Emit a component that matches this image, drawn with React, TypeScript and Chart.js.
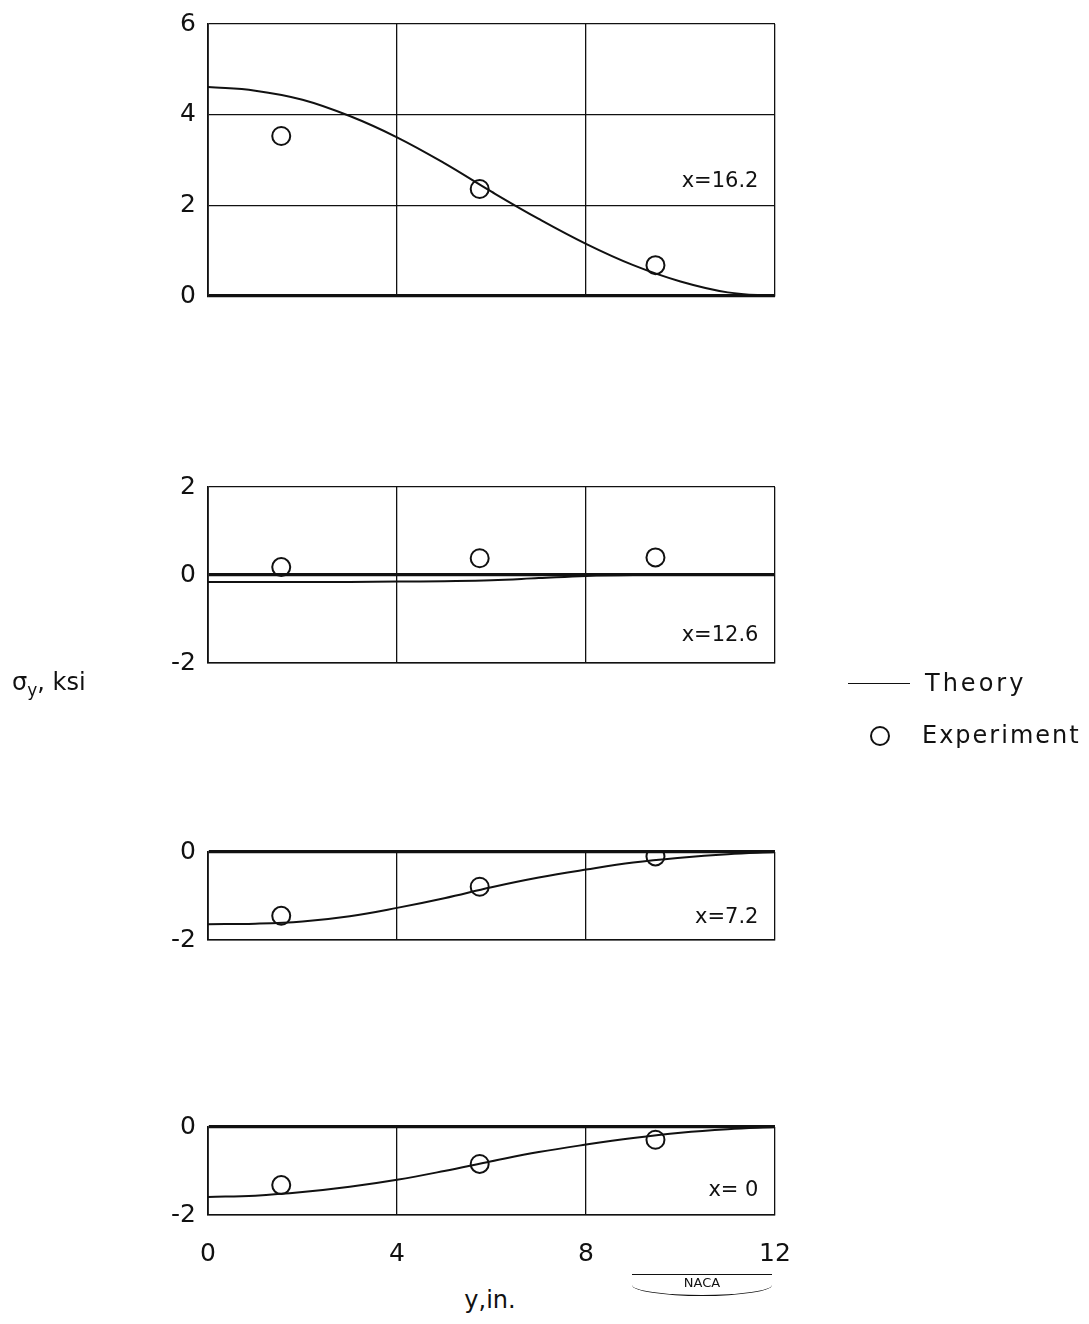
import React, { useEffect, useRef } from "react";
import { Chart, registerables } from "chart.js";

Chart.register(...registerables);

// ---- data ----
const theoryY: number[] = [0, 1, 2, 3, 4, 5, 6, 7, 8, 9, 10, 11, 12];

const theory162: number[] = [4.61, 4.53, 4.33, 3.97, 3.5, 2.93, 2.3, 1.7, 1.15, 0.68, 0.32, 0.08, 0.0];
const theory126: number[] = [-0.16, -0.16, -0.16, -0.16, -0.15, -0.14, -0.12, -0.07, -0.02, 0.0, 0.0, 0.0, 0.0];
const theory72: number[] = [-1.64, -1.63, -1.58, -1.46, -1.27, -1.05, -0.8, -0.58, -0.4, -0.24, -0.13, -0.05, 0.0];
const theory0: number[] = [-1.59, -1.56, -1.48, -1.36, -1.2, -1.0, -0.78, -0.57, -0.4, -0.25, -0.13, -0.05, 0.0];

const expY: number[] = [1.55, 5.75, 9.47];
const exp162: number[] = [3.53, 2.36, 0.68];
const exp126: number[] = [0.18, 0.38, 0.4];
const exp72: number[] = [-1.45, -0.79, -0.1];
const exp0: number[] = [-1.32, -0.84, -0.29];

const xTickLabels: number[] = [0, 4, 8, 12];
const panelTitles: string[] = ["x=16.2", "x=12.6", "x=7.2", "x= 0"];
const titlePos: number[][] = [
  [11.65, 2.52],
  [11.65, -1.38],
  [11.65, -1.48],
  [11.65, -1.44],
];

const FONT = "'DejaVu Sans', sans-serif";

type Panel = {
  top: number;
  bottom: number;
  min: number;
  max: number;
  theory: number[];
  exp: number[];
  showX: boolean;
  idx: number;
};

const panels: Panel[] = [
  { top: 22, bottom: 298, min: 0, max: 6, theory: theory162, exp: exp162, showX: false, idx: 0 },
  { top: 485, bottom: 665, min: -2, max: 2, theory: theory126, exp: exp126, showX: false, idx: 1 },
  { top: 850, bottom: 942, min: -2, max: 0, theory: theory72, exp: exp72, showX: false, idx: 2 },
  { top: 1125, bottom: 1215, min: -2, max: 0, theory: theory0, exp: exp0, showX: true, idx: 3 },
];

const PAD_TOP = 25;
const CANVAS_W = 860;

const labelPlugin = {
  id: "panelLabel",
  afterDatasetsDraw(chart: any, _args: any, opts: any) {
    const { ctx, scales } = chart;
    const px = scales.x.getPixelForValue(opts.x);
    const py = scales.y.getPixelForValue(opts.y);
    ctx.save();
    ctx.fillStyle = "#111";
    ctx.font = `21px ${FONT}`;
    ctx.textAlign = "right";
    ctx.textBaseline = "middle";
    ctx.fillText(opts.text, px, py);
    ctx.restore();
  },
};

function PanelChart({ p }: { p: Panel }) {
  const ref = useRef<HTMLCanvasElement | null>(null);
  const bottomExtra = p.showX ? 60 : 25;
  const height = p.bottom - p.top + PAD_TOP + bottomExtra;

  useEffect(() => {
    if (!ref.current) return;
    const chart = new Chart(ref.current, {
      type: "scatter",
      data: {
        datasets: [
          {
            label: "Theory",
            data: theoryY.map((y, i) => ({ x: y, y: p.theory[i] })),
            showLine: true,
            borderColor: "#111",
            borderWidth: 2,
            pointRadius: 0,
            tension: 0.4,
            fill: false,
          } as any,
          {
            label: "Experiment",
            data: expY.map((y, i) => ({ x: y, y: p.exp[i] })),
            showLine: false,
            borderColor: "#111",
            backgroundColor: "rgba(0,0,0,0)",
            borderWidth: 2,
            pointRadius: 9,
            pointStyle: "circle",
          },
        ],
      },
      options: {
        animation: false,
        responsive: false,
        maintainAspectRatio: false,
        layout: { padding: { top: PAD_TOP, left: 0, right: CANVAS_W - 775, bottom: 0 } },
        plugins: {
          legend: { display: false },
          tooltip: { enabled: false },
          panelLabel: { text: panelTitles[p.idx], x: titlePos[p.idx][0], y: titlePos[p.idx][1] },
        } as any,
        scales: {
          x: {
            type: "linear",
            min: 0,
            max: 12,
            afterFit: (s: any) => {
              s.height = bottomExtra;
            },
            afterBuildTicks: (s: any) => {
              s.ticks = xTickLabels.map((v) => ({ value: v }));
            },
            ticks: {
              display: p.showX,
              stepSize: 4,
              padding: 24,
              color: "#111",
              font: { family: FONT, size: 25 },
            },
            grid: {
              color: "#111",
              lineWidth: 1.3,
              drawTicks: false,
            },
            border: { display: true, color: "#111", width: 1.5 },
          },
          y: {
            type: "linear",
            min: p.min,
            max: p.max,
            afterFit: (s: any) => {
              s.width = 208;
            },
            ticks: {
              stepSize: 2,
              padding: 12,
              color: "#111",
              font: { family: FONT, size: 25 },
            },
            grid: {
              color: "#111",
              lineWidth: (c: any) => (c.tick && c.tick.value === 0 ? 3.2 : 1.3),
              drawTicks: false,
            },
            border: { display: true, color: "#111", width: 1.8 },
          },
        },
      },
      plugins: [labelPlugin],
    });
    return () => chart.destroy();
  }, []);

  return (
    <canvas
      ref={ref}
      width={CANVAS_W}
      height={height}
      style={{ position: "absolute", left: 0, top: p.top - PAD_TOP, width: CANVAS_W, height }}
    />
  );
}

export default function App() {
  const text: React.CSSProperties = {
    position: "absolute",
    fontFamily: FONT,
    color: "#111",
    whiteSpace: "nowrap",
  };
  return (
    <div
      style={{
        position: "absolute",
        left: 0,
        top: 0,
        width: 1089,
        height: 1324,
        background: "#fff",
        overflow: "hidden",
      }}
    >
      {panels.map((p) => (
        <PanelChart key={p.idx} p={p} />
      ))}
      {/* y-axis title */}
      <div style={{ ...text, left: 12, top: 667, fontSize: 24, lineHeight: "30px", zIndex: 2 }}>
        σ<sub style={{ fontSize: 17, verticalAlign: "-6px" }}>y</sub>, ksi
      </div>
      {/* x-axis title */}
      <div style={{ ...text, left: 450, top: 1285, width: 80, textAlign: "center", fontSize: 24, lineHeight: "30px", zIndex: 2 }}>
        y,in.
      </div>
      {/* NACA mark */}
      <div
        style={{
          ...text,
          left: 632,
          top: 1274,
          width: 140,
          textAlign: "center",
          fontSize: 13,
          lineHeight: "16px",
          borderTop: "1.5px solid #111",
          borderRadius: "0 0 50% 50%",
          borderBottom: "1px solid #111",
          paddingBottom: 4,
          zIndex: 2,
        }}
      >
        NACA
      </div>
      {/* legend */}
      <div style={{ position: "absolute", left: 848, top: 683, width: 62, height: 0, borderTop: "1.8px solid #111", zIndex: 2 }} />
      <div style={{ ...text, left: 925, top: 668, fontSize: 24, lineHeight: "30px", letterSpacing: 3, zIndex: 2 }}>Theory</div>
      <div
        style={{
          position: "absolute",
          left: 870,
          top: 726,
          width: 16,
          height: 16,
          border: "2px solid #111",
          borderRadius: "50%",
          zIndex: 2,
        }}
      />
      <div style={{ ...text, left: 922, top: 720, fontSize: 24, lineHeight: "30px", letterSpacing: 2, zIndex: 2 }}>Experiment</div>
    </div>
  );
}
